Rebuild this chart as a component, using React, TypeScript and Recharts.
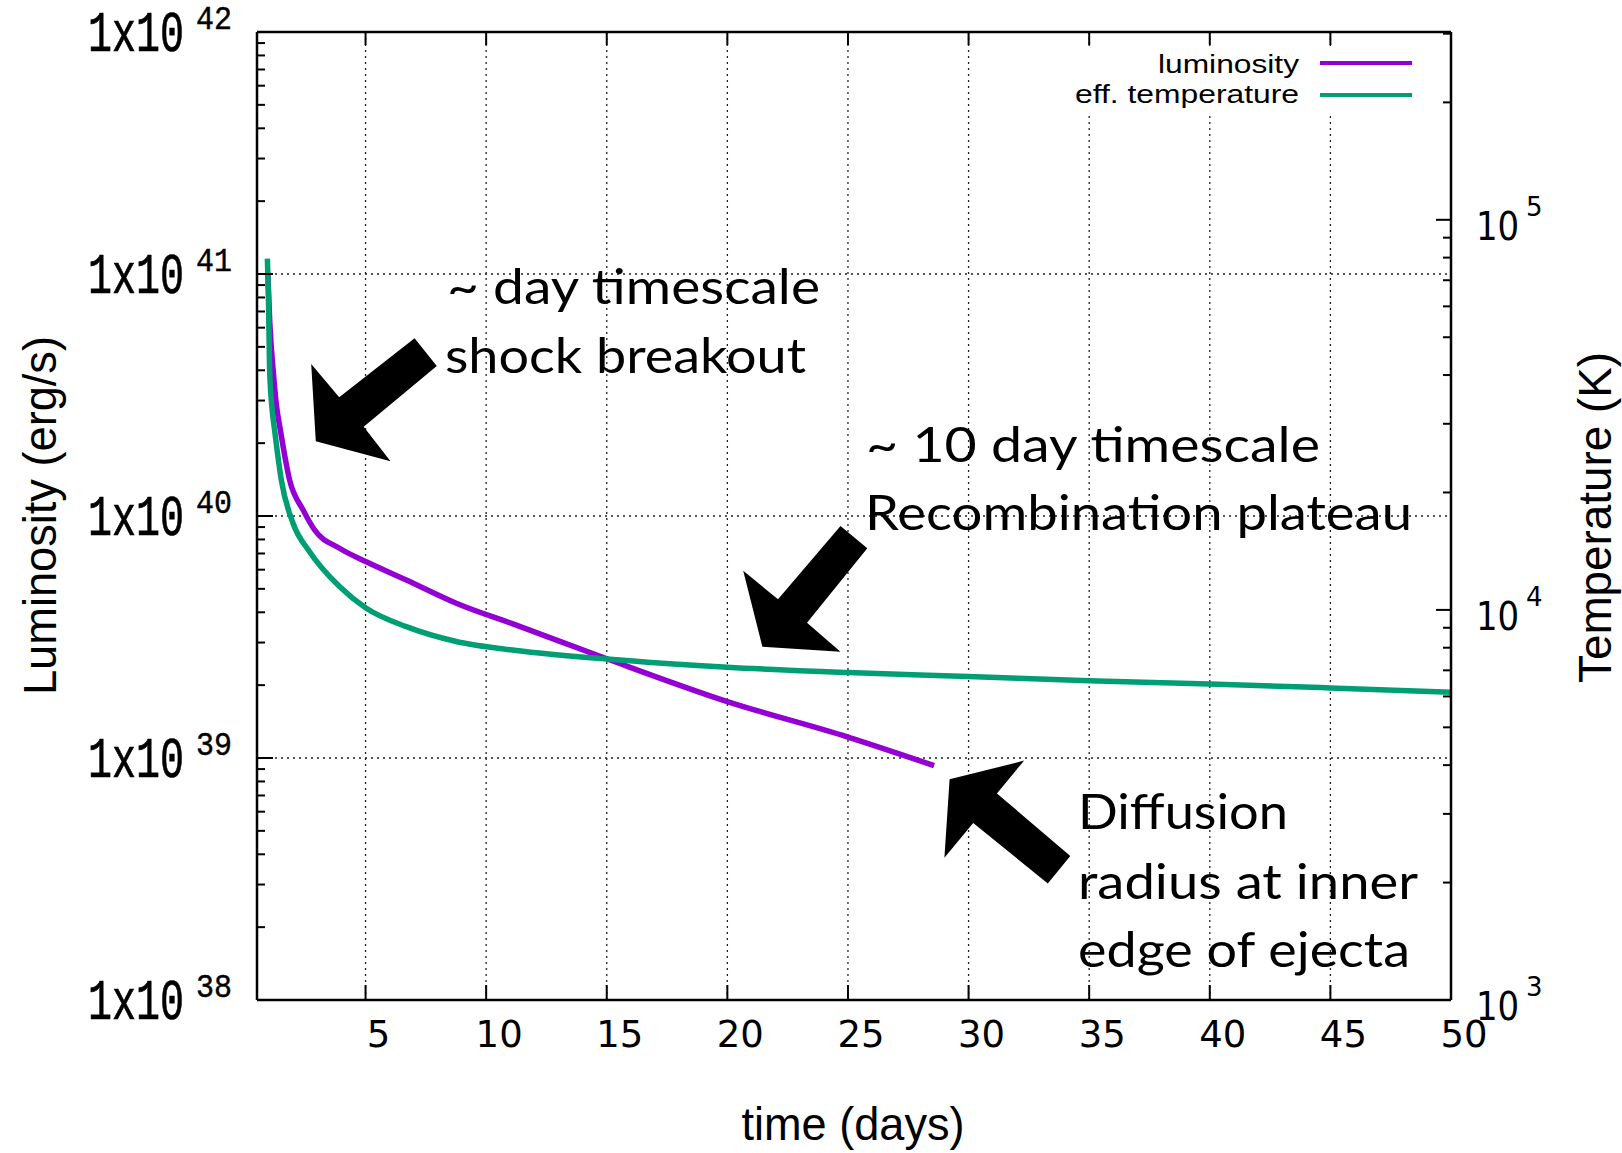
import React from "react";
import { LineChart, Line, XAxis, YAxis, ReferenceLine, Legend } from "recharts";

// luminosity curve (erg/s)
const lumDays = [0.95, 1.03, 1.18, 1.3, 1.47, 1.85, 2.41, 2.89, 3.92, 5.03, 6.69, 8.76, 11.25, 15, 20, 25, 28.57];
const lumValues = [1.0e41, 6.3e40, 3.9e40, 2.9e40, 2.26e40, 1.41e40, 1.06e40, 8.75e39, 7.36e39, 6.47e39, 5.44e39, 4.36e39, 3.54e39, 2.57e39, 1.71e39, 1.22e39, 9.3e38];

// effective temperature (K)
const tempDays = [0.93, 0.98, 1.02, 1.12, 1.23, 1.51, 1.99, 2.68, 3.92, 5.03, 6.69, 8.76, 11.25, 15, 20, 25, 30, 35, 40, 45, 50];
const tempValues = [7.95e4, 6.06e4, 4.2e4, 3.3e4, 2.89e4, 2.15e4, 1.67e4, 1.41e4, 1.148e4, 1.01e4, 9.06e3, 8.3e3, 7.87e3, 7.48e3, 7.13e3, 6.91e3, 6.75e3, 6.58e3, 6.46e3, 6.31e3, 6.15e3];

const seriesNames = ["luminosity", "eff. temperature"];
const dayTicks = [5, 10, 15, 20, 25, 30, 35, 40, 45, 50];
const gridDays = [5, 10, 15, 20, 25, 30, 35, 40, 45];
const lumDecades = [38, 39, 40, 41, 42];
const tempDecades = [3, 4, 5];
const minorSteps = [2, 3, 4, 5, 6, 7, 8, 9];
const gridLum = [1e39, 1e40, 1e41];

const lumData = lumDays.map((t, i) => ({ t, lum: lumValues[i] }));
const tempData = tempDays.map((t, i) => ({ t, temp: tempValues[i] }));

const logTicks = (decades: number[], max: number) => {
  const out: number[] = [];
  decades.forEach((d) => {
    out.push(Math.pow(10, d));
    minorSteps.forEach((m) => out.push(m * Math.pow(10, d)));
  });
  return out.filter((v) => v <= max * 1.000001);
};

const lumTicks = logTicks(lumDecades, 1e42);
const tempTicks = logTicks(tempDecades, 3.03e5);

const isMajor = (v: number) => {
  const lg = Math.log10(v);
  return Math.abs(lg - Math.round(lg)) < 1e-6;
};

// gnuplot-style "1x10^n" labels, stretched tall like the original export
const LumTick = (props: any) => {
  const { x, y, payload } = props;
  const major = isMajor(payload.value);
  const e = Math.round(Math.log10(payload.value));
  return (
    <g>
      <line x1={x} y1={y} x2={x + (major ? 16 : 8)} y2={y} stroke="#000" strokeWidth={2} />
      {major && (
        <>
          <text
            transform={`translate(${x - 169} ${y + 19}) scale(1 1.45)`}
            fontFamily="Liberation Mono"
            fontSize={40}
            fill="#000"
            stroke="#000"
            strokeWidth={0.5}
          >
            1x10
          </text>
          <text
            transform={`translate(${x - 61} ${y - 3}) scale(1 1.12)`}
            fontFamily="Liberation Mono"
            fontSize={30}
            fill="#000"
            stroke="#000"
            strokeWidth={0.4}
          >
            {e}
          </text>
        </>
      )}
    </g>
  );
};

const TempTick = (props: any) => {
  const { x, y, payload } = props;
  const major = isMajor(payload.value);
  const e = Math.round(Math.log10(payload.value));
  return (
    <g>
      <line x1={x} y1={y} x2={x - (major ? 15 : 8)} y2={y} stroke="#000" strokeWidth={2} />
      {major && (
        <>
          <text transform={`translate(${x + 25} ${y + 20}) scale(1 1.15)`} fontFamily="DejaVu Sans" fontSize={34} fill="#000">
            10
          </text>
          <text x={x + 75} y={y - 4} fontFamily="DejaVu Sans" fontSize={26} fill="#000">
            {e}
          </text>
        </>
      )}
    </g>
  );
};

const DayTick = (props: any) => {
  const { x, y, payload } = props;
  return (
    <g>
      <line x1={x} y1={y} x2={x} y2={y - 15} stroke="#000" strokeWidth={2} />
      <text x={x + 13} y={y + 47} textAnchor="middle" fontFamily="DejaVu Sans" fontSize={37} fill="#000">
        {payload.value}
      </text>
    </g>
  );
};

const TopTick = (props: any) => {
  const { x, y } = props;
  return <line x1={x} y1={y} x2={x} y2={y + 13} stroke="#000" strokeWidth={2} />;
};

const LegendBox = (props: any) => {
  const items = [...(props.payload || [])].sort(
    (a: any, b: any) => seriesNames.indexOf(a.value) - seriesNames.indexOf(b.value)
  );
  const widths = [141, 224];
  return (
    <svg width={366} height={70} style={{ display: "block" }}>
      <rect x={0} y={0} width={366} height={70} fill="#fff" />
      {items.map((it: any, i: number) => (
        <g key={it.value}>
          <text
            x={229 - widths[i]}
            y={27 + i * 30}
            fontFamily="Liberation Sans"
            fontSize={26}
            textLength={widths[i]}
            lengthAdjust="spacingAndGlyphs"
            fill="#000"
          >
            {it.value}
          </text>
          <line x1={250} x2={342} y1={17 + i * 32} y2={17 + i * 32} stroke={it.color} strokeWidth={4} />
        </g>
      ))}
    </svg>
  );
};

const axisLine = { stroke: "#000", strokeWidth: 2.5 };
const calloutFont = "Lato, 'Open Sans', sans-serif";

export default function App() {
  return (
    <div style={{ position: "absolute", left: 0, top: 0, width: 1622, height: 1153, background: "#fff" }}>
      <LineChart width={1622} height={1153} margin={{ top: 31, right: 170, bottom: 152, left: 256 }}>
        <XAxis
          xAxisId="b"
          dataKey="t"
          type="number"
          domain={[0.5, 50]}
          allowDataOverflow
          ticks={dayTicks}
          interval={0}
          height={1}
          tickSize={0}
          tickMargin={0}
          tickLine={false}
          axisLine={axisLine}
          tick={DayTick}
        />
        <XAxis
          xAxisId="top"
          orientation="top"
          dataKey="t"
          type="number"
          domain={[0.5, 50]}
          allowDataOverflow
          ticks={dayTicks}
          interval={0}
          height={1}
          tickSize={0}
          tickMargin={0}
          tickLine={false}
          axisLine={axisLine}
          tick={TopTick}
        />
        <YAxis
          yAxisId="L"
          type="number"
          scale="log"
          domain={[1e38, 1e42]}
          allowDataOverflow
          ticks={lumTicks}
          interval={0}
          width={1}
          tickSize={0}
          tickMargin={0}
          tickLine={false}
          axisLine={axisLine}
          tick={LumTick}
        />
        <YAxis
          yAxisId="T"
          orientation="right"
          type="number"
          scale="log"
          domain={[1e3, 3.03e5]}
          allowDataOverflow
          ticks={tempTicks}
          interval={0}
          width={1}
          tickSize={0}
          tickMargin={0}
          tickLine={false}
          axisLine={axisLine}
          tick={TempTick}
        />
        {gridDays.map((d) => (
          <ReferenceLine key={`gx${d}`} xAxisId="b" yAxisId="L" x={d} stroke="#222" strokeWidth={1.3} strokeDasharray="2 4" />
        ))}
        {gridLum.map((v) => (
          <ReferenceLine key={`gy${v}`} xAxisId="b" yAxisId="L" y={v} stroke="#222" strokeWidth={1.3} strokeDasharray="2 4" />
        ))}
        <Line
          xAxisId="b"
          yAxisId="L"
          data={lumData}
          dataKey="lum"
          name={seriesNames[0]}
          type="monotone"
          stroke="#9400D3"
          strokeWidth={5.5}
          dot={false}
          isAnimationActive={false}
        />
        <Line
          xAxisId="b"
          yAxisId="T"
          data={tempData}
          dataKey="temp"
          name={seriesNames[1]}
          type="monotone"
          stroke="#009E73"
          strokeWidth={5.5}
          dot={false}
          isAnimationActive={false}
        />
        <Legend
          layout="horizontal"
          verticalAlign="middle"
          align="center"
          wrapperStyle={{ top: 46, left: 1070, width: 366, height: 70 }}
          content={LegendBox}
        />
      </LineChart>

      {/* axis titles and the hand-drawn callouts */}
      <svg width={1622} height={1153} style={{ position: "absolute", left: 0, top: 0, pointerEvents: "none" }}>
        <text transform="translate(56 695) rotate(-90)" fontFamily="Liberation Sans" fontSize={46} textLength={359} lengthAdjust="spacingAndGlyphs">
          Luminosity (erg/s)
        </text>
        <text transform="translate(1611 683) rotate(-90)" fontFamily="Liberation Sans" fontSize={46} textLength={331} lengthAdjust="spacingAndGlyphs">
          Temperature (K)
        </text>
        <text x={741.5} y={1140} fontFamily="Liberation Sans" fontSize={46} textLength={223} lengthAdjust="spacingAndGlyphs">
          time (days)
        </text>

        <polygon points="414.6,338.3 436.8,366 363.7,426.7 390.5,461.3 315.8,441.3 311.2,364 339.2,397.3" fill="#000" />
        <polygon points="840.5,526 867.3,548.3 807,622.7 840.5,651.7 762.4,646.7 743.2,570.7 778,599.3" fill="#000" />
        <polygon points="1024.1,760.6 949.6,779.3 944.4,857.7 973.2,823.1 1047.8,883.4 1070.3,855.9 996.9,793.4" fill="#000" />

        <g fontFamily={calloutFont} fontSize={48} fill="#000">
          <text x={447} y={304} textLength={373} lengthAdjust="spacingAndGlyphs">~ day timescale</text>
          <text x={445} y={373} textLength={361} lengthAdjust="spacingAndGlyphs">shock breakout</text>
          <text x={866} y={462} textLength={454} lengthAdjust="spacingAndGlyphs">~ 10 day timescale</text>
          <text x={865} y={530} textLength={547} lengthAdjust="spacingAndGlyphs">Recombination plateau</text>
          <text x={1078} y={829} textLength={210} lengthAdjust="spacingAndGlyphs">Diffusion</text>
          <text x={1078} y={899} textLength={340} lengthAdjust="spacingAndGlyphs">radius at inner</text>
          <text x={1078} y={967} textLength={332} lengthAdjust="spacingAndGlyphs">edge of ejecta</text>
        </g>
      </svg>
    </div>
  );
}
